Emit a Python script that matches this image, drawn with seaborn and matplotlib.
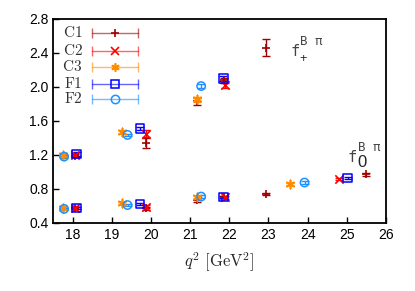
import numpy as np
import pandas as pd
import matplotlib
matplotlib.use("Agg")
import matplotlib.pyplot as plt
import seaborn as sns

# data: (q^2, value, error) for f_+ and f_0
c1_plus_x = [18.07, 19.88, 21.18, 21.86, 22.93]
c1_plus_y = [1.19, 1.34, 1.83, 2.08, 2.46]
c1_plus_e = [0.02, 0.06, 0.04, 0.03, 0.10]
c1_zero_x = [18.07, 19.88, 21.18, 21.86, 22.93, 25.49]
c1_zero_y = [0.575, 0.573, 0.665, 0.70, 0.74, 0.97]
c1_zero_e = [0.015, 0.02, 0.02, 0.015, 0.015, 0.015]

c2_plus_x = [18.07, 19.88, 21.88]
c2_plus_y = [1.20, 1.45, 2.02]
c2_plus_e = [0.02, 0.04, 0.03]
c2_zero_x = [18.07, 19.88, 21.88, 24.80]
c2_zero_y = [0.58, 0.59, 0.70, 0.915]
c2_zero_e = [0.015, 0.015, 0.015, 0.015]

c3_plus_x = [17.75, 19.25, 21.17]
c3_plus_y = [1.20, 1.475, 1.855]
c3_plus_e = [0.015, 0.015, 0.03]
c3_zero_x = [17.75, 19.25, 21.17, 23.56]
c3_zero_y = [0.57, 0.635, 0.70, 0.86]
c3_zero_e = [0.01, 0.01, 0.015, 0.015]

f1_plus_x = [18.10, 19.72, 21.85]
f1_plus_y = [1.21, 1.51, 2.10]
f1_plus_e = [0.02, 0.02, 0.03]
f1_zero_x = [18.10, 19.72, 21.85, 25.02]
f1_zero_y = [0.575, 0.62, 0.705, 0.93]
f1_zero_e = [0.01, 0.01, 0.015, 0.015]

f2_plus_x = [17.78, 19.40, 21.28]
f2_plus_y = [1.18, 1.435, 2.01]
f2_plus_e = [0.015, 0.015, 0.02]
f2_zero_x = [17.78, 19.40, 21.28, 23.92]
f2_zero_y = [0.565, 0.61, 0.71, 0.875]
f2_zero_e = [0.01, 0.01, 0.015, 0.015]

names = ["C1", "C2", "C3", "F1", "F2"]
colors = {"C1": "#a00000", "C2": "#ff0000", "C3": "#ff8c00",
          "F1": "#0000ff", "F2": "#1e90ff"}
markers = {"C1": "+", "C2": "x", "C3": (6, 2, 0), "F1": "s", "F2": "o"}

rows = []
series = {
    "C1": (c1_plus_x, c1_plus_y, c1_plus_e, c1_zero_x, c1_zero_y, c1_zero_e),
    "C2": (c2_plus_x, c2_plus_y, c2_plus_e, c2_zero_x, c2_zero_y, c2_zero_e),
    "C3": (c3_plus_x, c3_plus_y, c3_plus_e, c3_zero_x, c3_zero_y, c3_zero_e),
    "F1": (f1_plus_x, f1_plus_y, f1_plus_e, f1_zero_x, f1_zero_y, f1_zero_e),
    "F2": (f2_plus_x, f2_plus_y, f2_plus_e, f2_zero_x, f2_zero_y, f2_zero_e),
}
for n, (px, py, pe, zx, zy, ze) in series.items():
    for x, y, e in zip(px + zx, py + zy, pe + ze):
        rows.append({"ens": n, "q2": x, "f": y, "err": e})
df = pd.DataFrame(rows)

sns.set_theme(style="white")
plt.rcParams["mathtext.fontset"] = "cm"
plt.rcParams["font.family"] = ["Liberation Sans", "DejaVu Sans"]

fig, ax = plt.subplots(figsize=(4.15, 2.91), dpi=100)
fig.subplots_adjust(left=0.128, right=0.930, top=0.935, bottom=0.234)

for n in names:
    d = df[df["ens"] == n]
    ax.errorbar(d["q2"], d["f"], yerr=d["err"], fmt="none", ecolor=colors[n],
                elinewidth=1.0, capsize=3, capthick=1.0, zorder=2)
    if markers[n] in ("s", "o"):
        sns.scatterplot(data=d, x="q2", y="f", marker=markers[n], s=36,
                        facecolors="none", edgecolor=colors[n], linewidth=1.1,
                        ax=ax, zorder=3, legend=False)
    else:
        sns.scatterplot(data=d, x="q2", y="f", marker=markers[n], s=36,
                        color=colors[n], linewidth=1.2, ax=ax, zorder=3,
                        legend=False)

# gnuplot-style key
key_y = [0.931, 0.843, 0.765, 0.681, 0.608]
for n, ky in zip(names, key_y):
    ax.plot([0.117, 0.255], [ky, ky], transform=ax.transAxes, color=colors[n],
            lw=1.0, alpha=0.6, marker="|", markersize=7, mew=1.0, clip_on=False)
    if markers[n] in ("s", "o"):
        ax.plot([0.186], [ky], transform=ax.transAxes, marker=markers[n],
                markersize=6, mfc="none", mec=colors[n], mew=1.1, ls="none")
    else:
        ax.plot([0.186], [ky], transform=ax.transAxes, marker=markers[n],
                markersize=6, color=colors[n], mew=1.2, ls="none")
    ax.text(0.088, ky, r"$\mathrm{" + n + "}$", transform=ax.transAxes,
            ha="right", va="center", fontsize=11, color="#333333")

# form factor labels, gnuplot style: f, superscript "B π", subscript
mono = "DejaVu Sans Mono"
for lx, ly, sub, subsize in [(23.55, 2.36, "+", 9), (25.03, 1.12, "0", 12)]:
    ax.text(lx, ly, "f", fontsize=11, family=mono, color="#444444")
    ax.annotate("B π", (lx, ly), xytext=(7, 8), textcoords="offset points",
                fontsize=9, family=mono, color="#444444")
    ax.annotate(sub, (lx, ly), xytext=(6.5, -4), textcoords="offset points",
                fontsize=subsize, family="Liberation Sans", color="#222222")

ax.set_xlim(17.5, 26)
ax.set_ylim(0.4, 2.8)
ax.set_xticks(np.arange(18, 27, 1))
ax.set_yticks(np.arange(0.4, 2.81, 0.4))
ax.set_yticklabels(["%.1f" % v for v in np.arange(0.4, 2.81, 0.4)])
ax.tick_params(direction="in", length=4, width=1.0, labelsize=10,
               bottom=True, left=True, top=False, right=False, colors="black")
for sp in ax.spines.values():
    sp.set_color("black")
    sp.set_linewidth(1.3)
ax.set_xlabel(r"$q^2\ [\mathrm{GeV}^2]$", fontsize=12, labelpad=6)
ax.set_ylabel("")

fig.savefig("out.png", dpi=100)
